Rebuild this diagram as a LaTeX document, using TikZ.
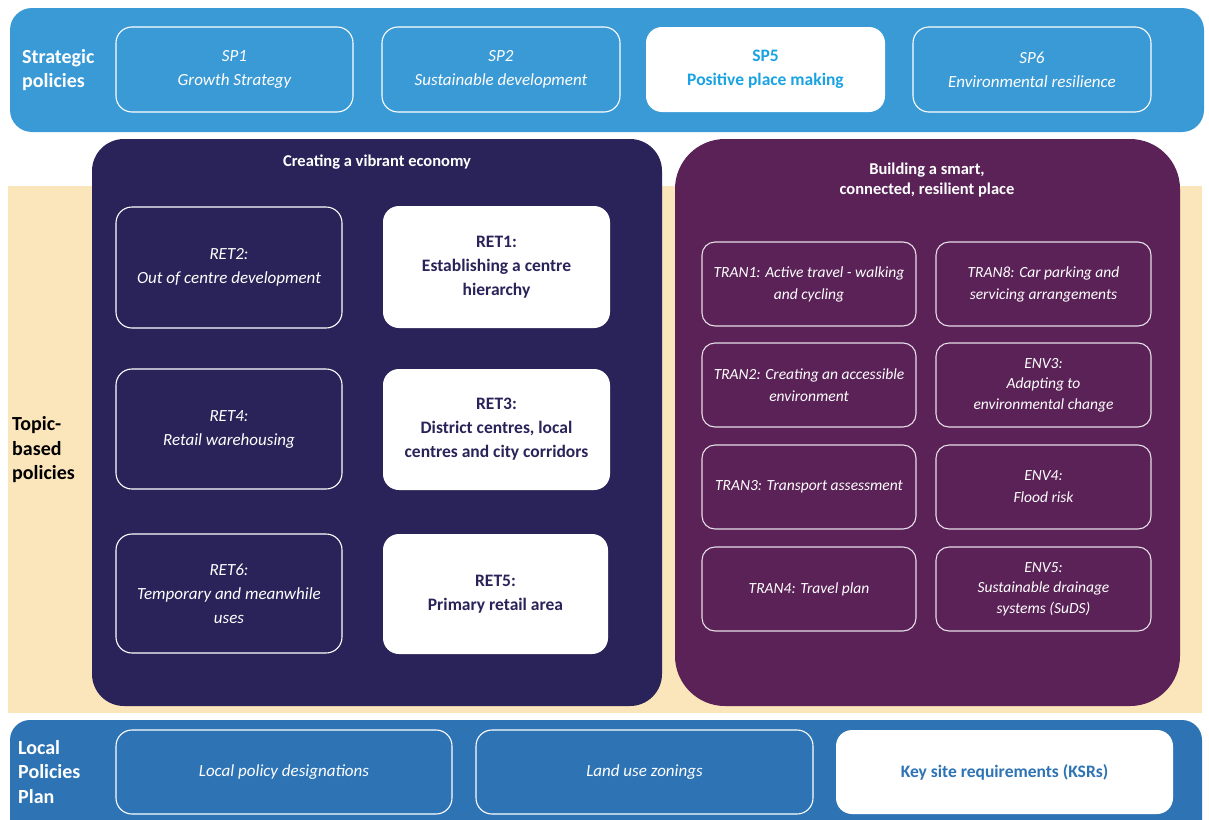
\documentclass[tikz,border=0pt]{standalone}
\usepackage{fontspec}
\setmainfont{Carlito}
\definecolor{topblue}{HTML}{3A9AD6}
\definecolor{botblue}{HTML}{2E74B5}
\definecolor{navy}{HTML}{2A2359}
\definecolor{plum}{HTML}{5A2257}
\definecolor{cream}{HTML}{FBE5BA}
\definecolor{sptext}{HTML}{1AA3E3}
\tikzset{
  band/.style={rounded corners=22pt, inner sep=0pt},
  obox/.style={draw=white, line width=1.1pt, rounded corners=16pt, inner sep=3pt, align=center, text=white, font=\fontsize{17}{24}\selectfont\itshape},
  wbox/.style={fill=white, rounded corners=16pt, inner sep=3pt, align=center, font=\fontsize{17.5}{24}\selectfont\bfseries},
  tbox/.style={draw=white!85!plum, line width=1.1pt, rounded corners=13pt, inner sep=3pt, align=center, text=white, font=\fontsize{15.5}{22}\selectfont\itshape},
  sidelabel/.style={anchor=west, align=left, inner sep=0pt, font=\fontsize{20}{24.5}\selectfont\bfseries},
  title/.style={align=center, text=white, inner sep=0pt, font=\fontsize{16.5}{20.5}\selectfont\bfseries}
}
\begin{document}
\begin{tikzpicture}[x=1pt,y=-1pt]
\useasboundingbox (0,0) rectangle (1209,819);
\fill[white] (0,0) rectangle (1209,819);
% top band
\node[band, fill=topblue, minimum width=1194pt, minimum height=124pt] (top) at (607,70) {};
\node[sidelabel, text=white] (toplab) at (22,70) {Strategic\\policies};
\node[obox, minimum width=237pt, minimum height=85pt] (sp1) at (234.5,69.5) {SP1\\Growth Strategy};
\node[obox, minimum width=238pt, minimum height=85pt] (sp2) at (501,69.5) {SP2\\Sustainable development};
\node[wbox, text=sptext, minimum width=239pt, minimum height=85pt] (sp5) at (765.5,69.5) {SP5\\Positive place making};
\node[obox, minimum width=238pt, minimum height=85pt] (sp6) at (1032,69.5) {SP6\\Environmental resilience};
% cream background
\fill[cream] (8,186) rectangle (1202,713);
\node[sidelabel, text=black] (midlab) at (12,450) {Topic-\\based\\policies};
% navy panel
\node[fill=navy, rounded corners=32pt, minimum width=570pt, minimum height=567pt, inner sep=0pt] (econ) at (377,422.5) {};
\node[title] (econt) at (377,162) {Creating a vibrant economy};
\node[obox, minimum width=226pt, minimum height=121pt] (ret2) at (229,267.5) {RET2:\\Out of centre development};
\node[obox, minimum width=226pt, minimum height=120pt] (ret4) at (229,429) {RET4:\\Retail warehousing};
\node[obox, minimum width=226pt, minimum height=119pt] (ret6) at (229,593.5) {RET6:\\Temporary and meanwhile\\uses};
\node[wbox, text=navy, minimum width=227pt, minimum height=122pt] (ret1) at (496.5,267) {RET1:\\Establishing a centre\\hierarchy};
\node[wbox, text=navy, minimum width=227pt, minimum height=121pt] (ret3) at (496.5,429.5) {RET3:\\District centres, local\\centres and city corridors};
\node[wbox, text=navy, minimum width=225pt, minimum height=120pt] (ret5) at (495.5,594) {RET5:\\Primary retail area};
% plum panel
\node[fill=plum, rounded corners=50pt, minimum width=505pt, minimum height=567pt, inner sep=0pt] (place) at (927.5,422.5) {};
\node[title] (placet) at (927,180) {Building a smart,\\connected, resilient place};
\node[tbox, minimum width=214pt, minimum height=84pt] (tran1) at (809,284) {TRAN1: Active travel - walking\\and cycling};
\node[tbox, minimum width=214pt, minimum height=84pt] (tran2) at (809,385) {TRAN2: Creating an accessible\\environment};
\node[tbox, minimum width=214pt, minimum height=84pt] (tran3) at (809,487) {TRAN3: Transport assessment};
\node[tbox, minimum width=214pt, minimum height=84pt] (tran4) at (809,589) {TRAN4: Travel plan};
\node[tbox, minimum width=215pt, minimum height=84pt] (tran8) at (1043.5,284) {TRAN8: Car parking and\\servicing arrangements};
\node[tbox, minimum width=215pt, minimum height=84pt, font=\fontsize{15.5}{20.5}\selectfont\itshape] (env3) at (1043.5,385) {ENV3:\\Adapting to\\environmental change};
\node[tbox, minimum width=215pt, minimum height=84pt] (env4) at (1043.5,487) {ENV4:\\Flood risk};
\node[tbox, minimum width=215pt, minimum height=84pt, font=\fontsize{15.5}{20.5}\selectfont\itshape] (env5) at (1043.5,589) {ENV5:\\Sustainable drainage\\systems (SuDS)};
% bottom band
\node[band, fill=botblue, rounded corners=20pt, minimum width=1192pt, minimum height=130pt] (bot) at (606,785) {};
\node[sidelabel, text=white] (botlab) at (18,772) {Local\\Policies\\Plan};
\node[obox, minimum width=336pt, minimum height=84pt] (lpd) at (284,772) {Local policy designations};
\node[obox, minimum width=337pt, minimum height=84pt] (luz) at (644.5,772) {Land use zonings};
\node[wbox, text=botblue, minimum width=337pt, minimum height=84pt] (ksr) at (1004.5,772) {Key site requirements (KSRs)};
\end{tikzpicture}
\end{document}
